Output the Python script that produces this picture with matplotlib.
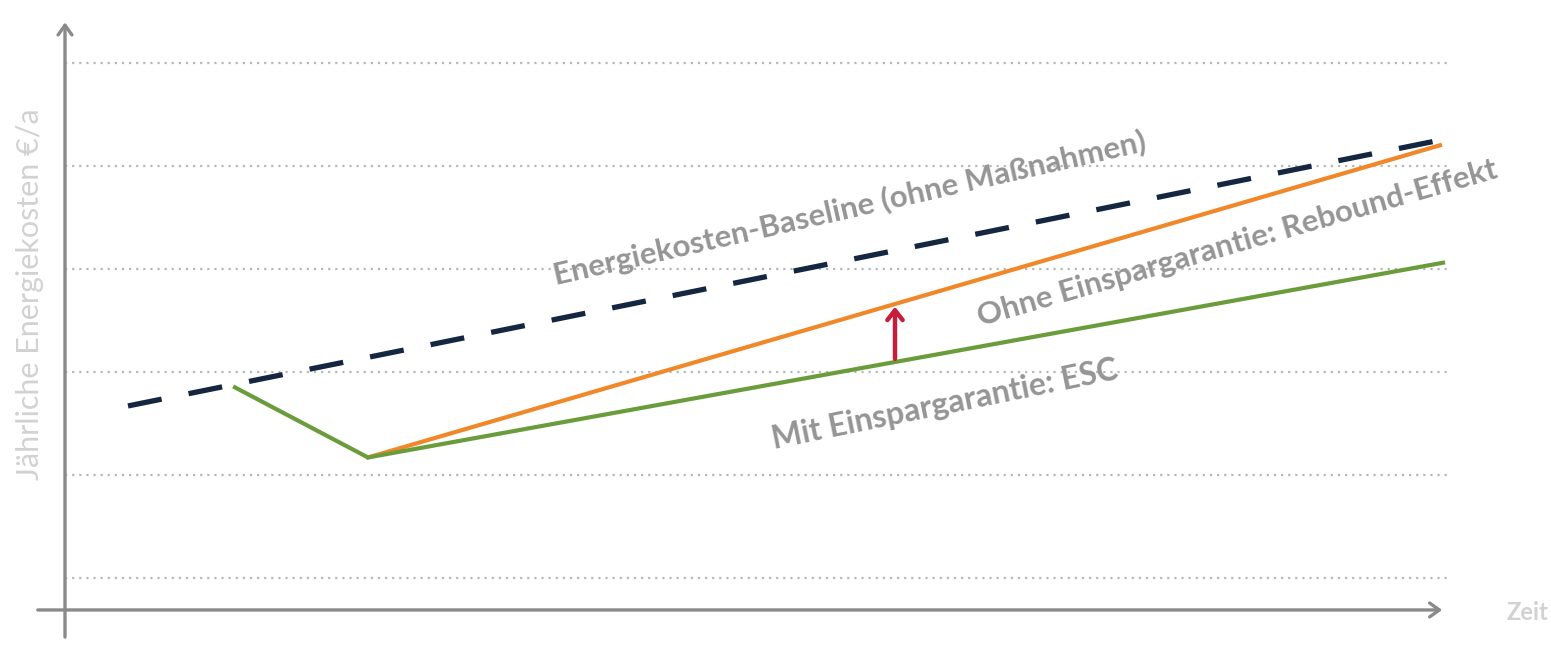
import matplotlib
matplotlib.use("Agg")
import matplotlib.pyplot as plt

# --- data (time units, cost units) ---
grid_levels = [1, 2, 3, 4, 5, 6]
baseline_t = [0.63, 13.75]
baseline_y = [2.67, 5.25]
esc_t = [1.70, 3.03, 13.78]
esc_y = [2.85, 2.17, 4.06]
rebound_t = [3.03, 13.75]
rebound_y = [2.17, 5.20]
arrow_t = 8.30
arrow_from = 3.10
arrow_to = 3.66

label_baseline = "Energiekosten-Baseline (ohne Maßnahmen)"
label_rebound = "Ohne Einspargarantie: Rebound-Effekt"
label_esc = "Mit Einspargarantie: ESC"
ylabel = "Jährliche Energiekosten €/a"
xlabel = "Zeit"

plt.rcParams['font.family'] = ['Lato', 'DejaVu Sans']

fig = plt.figure(figsize=(15.51, 6.45), dpi=100)
ax = fig.add_axes([0, 0, 1, 1])
ax.set_xlim(-0.65, 14.86)
ax.set_ylim(0.35, 6.61)
ax.axis('off')

# grid
for g in grid_levels:
    ax.plot([0.0, 13.85], [g, g], color='#b8b8b8', lw=1.6, ls=(0, (1, 2.2)), zorder=1)

# axes with arrows
axcol = '#8a8a8a'
ax.annotate('', xy=(0, 6.42), xytext=(0, 0.40),
            arrowprops=dict(arrowstyle='->,head_length=0.7,head_width=0.5', color=axcol, lw=2.4))
ax.annotate('', xy=(13.80, 0.69), xytext=(-0.30, 0.69),
            arrowprops=dict(arrowstyle='->,head_length=0.7,head_width=0.5', color=axcol, lw=2.4))

# lines
ax.plot(baseline_t, baseline_y, color='#142640', lw=3.8, ls=(0, (6.5, 5.2)), zorder=3, solid_capstyle='butt')
ax.plot(rebound_t, rebound_y, color='#f0882a', lw=3.0, zorder=4)
ax.plot(esc_t, esc_y, color='#6b9c3c', lw=3.0, zorder=4)

# red arrow
ax.annotate('', xy=(arrow_t, arrow_to), xytext=(arrow_t, arrow_from),
            arrowprops=dict(arrowstyle='->,head_length=0.7,head_width=0.55', color='#c41e3a', lw=3.2),
            zorder=5)

tcol = '#959595'
ax.text(7.85, 4.59, label_baseline, rotation=12.8, rotation_mode='anchor', ha='center', va='center',
        fontsize=22.5, fontweight='bold', color=tcol)
ax.text(11.72, 4.25, label_rebound, rotation=16.0, rotation_mode='anchor', ha='center', va='center',
        fontsize=22.5, fontweight='bold', color=tcol)
ax.text(8.80, 2.68, label_esc, rotation=11.5, rotation_mode='anchor', ha='center', va='center',
        fontsize=23, fontweight='bold', color=tcol)

ax.text(-0.35, 3.75, ylabel, rotation=90, ha='center', va='center', fontsize=22, color='#d2d2d2')
ax.text(14.62, 0.67, xlabel, ha='center', va='center', fontsize=17, fontweight='bold', color='#d2d2d2')

fig.savefig('out.png', dpi=100)
